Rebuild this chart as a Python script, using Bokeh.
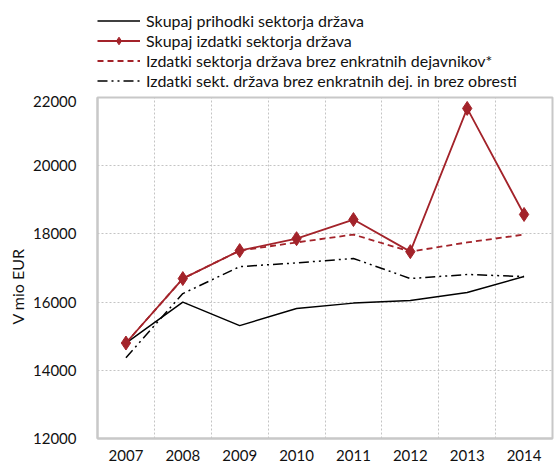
from bokeh.plotting import figure
from bokeh.layouts import column
from bokeh.models import Legend, LegendItem, FixedTicker, Grid, Range1d
from bokeh.embed import file_html
from bokeh.resources import INLINE

years = [2007, 2008, 2009, 2010, 2011, 2012, 2013, 2014]
prihodki = [14800, 16000, 15310, 15810, 15970, 16050, 16280, 16750]
izdatki = [14800, 16690, 17510, 17860, 18420, 17480, 21680, 18570]
izdatki_brez_enk = [14800, 16690, 17510, 17750, 17980, 17480, 17750, 17980]
izdatki_brez_obr = [14370, 16250, 17040, 17150, 17280, 16690, 16810, 16750]
labels = ["Skupaj prihodki sektorja država",
          "Skupaj izdatki sektorja država",
          "Izdatki sektorja država brez enkratnih dejavnikov*",
          "Izdatki sekt. država brez enkratnih dej. in brez obresti"]
y_ticks = [12000, 14000, 16000, 18000, 20000, 22000]
y_title = "V mio EUR"

RED = "#a3232a"
FONT = "Lato"
NAN = float("nan")

styles = [dict(line_color="black", line_width=1.5),
          dict(line_color=RED, line_width=1.8),
          dict(line_color=RED, line_width=1.8, line_dash="6 4"),
          dict(line_color="black", line_width=1.5, line_dash="10 4 2 4 2 4")]

W = 556
# main chart
p = figure(width=W, height=370, output_backend="svg", toolbar_location=None,
           x_range=Range1d(2006.5, 2014.5), y_range=Range1d(12000, 22000),
           min_border_left=97, min_border_top=2, min_border_right=4,
           min_border_bottom=27)
p.background_fill_color = "white"
p.border_fill_color = "white"
p.outline_line_color = "#c8c8c8"
p.outline_line_width = 2

p.xgrid.visible = False
p.ygrid.grid_line_color = "#c4c4c4"
p.ygrid.grid_line_dash = "2 2"
p.ygrid.ticker = FixedTicker(ticks=y_ticks)
vg = Grid(dimension=0, ticker=FixedTicker(ticks=[y + 0.5 for y in years[:-1]]),
          grid_line_color="#c4c4c4", grid_line_dash="2 2")
p.add_layout(vg)

for ax in (p.xaxis[0], p.yaxis[0]):
    ax.axis_line_color = "#c8c8c8"
    ax.axis_line_width = 2
    ax.major_tick_line_color = None
    ax.minor_tick_line_color = None
    ax.major_label_text_font = FONT
    ax.major_label_text_font_size = "15px"
    ax.major_label_text_color = "#111111"
p.xaxis.ticker = FixedTicker(ticks=years)
p.yaxis.ticker = FixedTicker(ticks=y_ticks)
p.xaxis.major_label_standoff = 5
p.yaxis.major_label_standoff = 15
# trailing no-break spaces shift the centred title toward the bottom, as in the original
p.yaxis.axis_label = y_title + "\u00a0" * 9
p.yaxis.axis_label_text_font = FONT
p.yaxis.axis_label_text_font_size = "16px"
p.yaxis.axis_label_text_font_style = "normal"
p.yaxis.axis_label_text_color = "#111111"
p.yaxis.axis_label_standoff = 3

p.line(years, prihodki, **styles[0])
p.line(years, izdatki_brez_enk, **styles[2])
p.line(years, izdatki_brez_obr, **styles[3])
p.line(years, izdatki, **styles[1])
p.scatter(years, izdatki, marker="diamond", size=14, fill_color=RED, line_color=RED)

# legend strip above the chart
lg = figure(width=W, height=95, output_backend="svg", toolbar_location=None,
            x_range=Range1d(0, 1), y_range=Range1d(0, 1),
            min_border_left=97, min_border_right=4, min_border_top=0,
            min_border_bottom=0, x_axis_location=None, y_axis_location=None)
lg.outline_line_color = None
lg.grid.visible = False
lg.border_fill_color = "white"
lg.background_fill_color = "white"
lr = [lg.line([NAN], [NAN], **s) for s in styles]
lm = lg.scatter([NAN], [NAN], marker="diamond", size=9, fill_color=RED, line_color=RED)
legend = Legend(items=[LegendItem(label=labels[0], renderers=[lr[0]]),
                       LegendItem(label=labels[1], renderers=[lr[1], lm]),
                       LegendItem(label=labels[2], renderers=[lr[2]]),
                       LegendItem(label=labels[3], renderers=[lr[3]])],
                location=(0, 5), orientation="vertical",
                glyph_width=43, glyph_height=19, label_height=19,
                label_standoff=6, spacing=1, padding=0, margin=0,
                border_line_alpha=0, background_fill_alpha=0,
                label_text_font=FONT, label_text_font_size="16px",
                label_text_color="#111111")
lg.add_layout(legend)

layout = column(lg, p, spacing=0)
html = file_html(layout, INLINE)
html = html.replace("<body>", '<body style="overflow:hidden">', 1)
open("out.html", "w").write(html)
